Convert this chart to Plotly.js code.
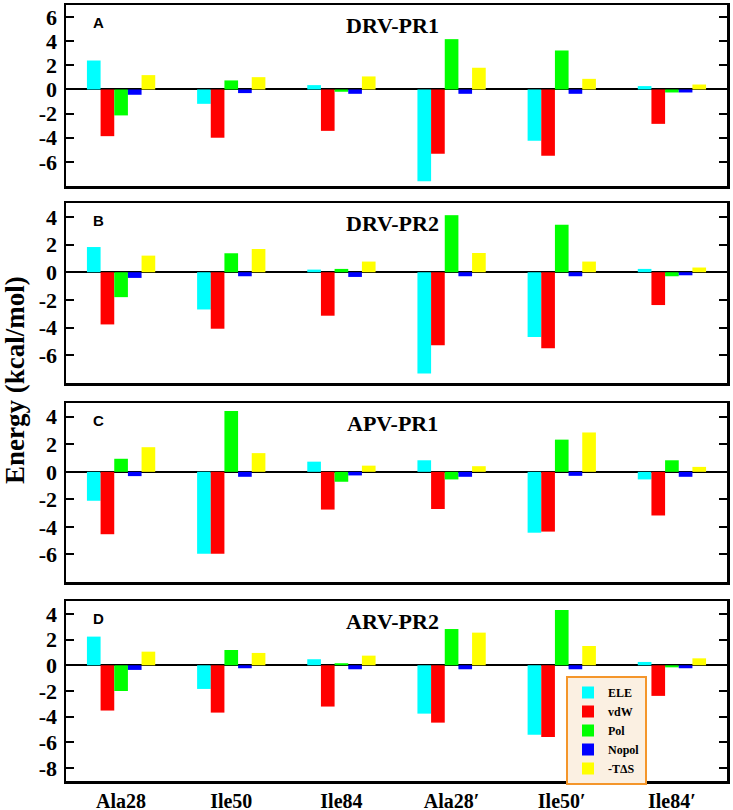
<!DOCTYPE html>
<html>
<head>
<meta charset="utf-8">
<script src="https://cdn.plot.ly/plotly-3.0.1.min.js"></script>
<style>html,body{margin:0;padding:0;background:#fff;}#chart{width:733px;height:810px;}</style>
</head>
<body>
<div id="chart"></div>
<script>
// Categories (residues) and energy components
const categories = ['Ala28', 'Ile50', 'Ile84', 'Ala28\u2032', 'Ile50\u2032', 'Ile84\u2032'];
const seriesNames = ['ELE', 'vdW', 'Pol', 'Nopol', '-T\u0394S'];
const seriesColors = ['#00FFFF', '#FF0000', '#00FF00', '#0000FF', '#FFFF00'];

// Panel A: DRV-PR1
const drvPr1_ELE   = [2.40, -1.19, 0.36, -7.60, -4.25, 0.28];
const drvPr1_vdW   = [-3.87, -4.00, -3.43, -5.33, -5.50, -2.85];
const drvPr1_Pol   = [-2.15, 0.75, -0.19, 4.17, 3.23, -0.25];
const drvPr1_Nopol = [-0.44, -0.30, -0.36, -0.36, -0.36, -0.25];
const drvPr1_TdS   = [1.19, 1.02, 1.08, 1.80, 0.88, 0.41];

// Panel B: DRV-PR2
const drvPr2_ELE   = [1.82, -2.69, 0.19, -7.31, -4.68, 0.24];
const drvPr2_vdW   = [-3.77, -4.08, -3.14, -5.28, -5.49, -2.37];
const drvPr2_Pol   = [-1.80, 1.37, 0.24, 4.12, 3.43, -0.29];
const drvPr2_Nopol = [-0.41, -0.29, -0.34, -0.29, -0.29, -0.22];
const drvPr2_TdS   = [1.20, 1.68, 0.77, 1.39, 0.77, 0.34];

// Panel C: APV-PR1
const apvPr1_ELE   = [-2.10, -5.94, 0.74, 0.84, -4.42, -0.55];
const apvPr1_vdW   = [-4.53, -5.94, -2.74, -2.70, -4.34, -3.17];
const apvPr1_Pol   = [0.95, 4.42, -0.72, -0.55, 2.34, 0.84];
const apvPr1_Nopol = [-0.31, -0.36, -0.26, -0.36, -0.29, -0.36];
const apvPr1_TdS   = [1.79, 1.36, 0.45, 0.41, 2.86, 0.36];

// Panel D: ARV-PR2
const arvPr2_ELE   = [2.23, -1.84, 0.47, -3.76, -5.41, 0.26];
const arvPr2_vdW   = [-3.52, -3.68, -3.21, -4.46, -5.57, -2.38];
const arvPr2_Pol   = [-2.00, 1.19, 0.16, 2.82, 4.30, -0.16];
const arvPr2_Nopol = [-0.36, -0.23, -0.31, -0.31, -0.31, -0.23];
const arvPr2_TdS   = [1.06, 0.96, 0.75, 2.54, 1.50, 0.54];

const panelTitles = ['DRV-PR1', 'DRV-PR2', 'APV-PR1', 'ARV-PR2'];
const panelLetters = ['A', 'B', 'C', 'D'];
const yTickValsA = [-6, -4, -2, 0, 2, 4, 6];
const yTickValsBC = [-6, -4, -2, 0, 2, 4];
const yTickValsD = [-8, -6, -4, -2, 0, 2, 4];

const panels = [
  {series: [drvPr1_ELE, drvPr1_vdW, drvPr1_Pol, drvPr1_Nopol, drvPr1_TdS], range: [-8, 7], ticks: yTickValsA},
  {series: [drvPr2_ELE, drvPr2_vdW, drvPr2_Pol, drvPr2_Nopol, drvPr2_TdS], range: [-8, 5], ticks: yTickValsBC},
  {series: [apvPr1_ELE, apvPr1_vdW, apvPr1_Pol, apvPr1_Nopol, apvPr1_TdS], range: [-8, 5], ticks: yTickValsBC},
  {series: [arvPr2_ELE, arvPr2_vdW, arvPr2_Pol, arvPr2_Nopol, arvPr2_TdS], range: [-9, 5], ticks: yTickValsD}
];

// pixel layout helpers (plot area from y=5 to y=781)
const H = 776, BOTTOM = 781, LEFT = 66, W = 661;
const fy = (py) => (BOTTOM - py) / H;
const fx = (px) => (px - LEFT) / W;
const panelPix = [[5, 186], [203, 383], [403, 582], [601, 781]];

const serif = 'Liberation Serif';
const tickFont = {family: serif, size: 22, color: '#000', weight: 'bold'};

const traces = [];
const layout = {
  width: 733, height: 810,
  margin: {l: LEFT, r: 733 - LEFT - W, t: 5, b: 810 - BOTTOM},
  paper_bgcolor: '#fff', plot_bgcolor: '#fff',
  barmode: 'group', bargap: 0.38, bargroupgap: 0,
  showlegend: true,
  legend: {
    x: fx(566), y: fy(676), xanchor: 'left', yanchor: 'top',
    bgcolor: '#FBF0E2', bordercolor: '#F4962B', borderwidth: 2,
    font: {family: serif, size: 12, color: '#000', weight: 'bold'},
    tracegroupgap: 0
  },
  annotations: [],
  font: {family: serif, color: '#000'}
};

panels.forEach((p, i) => {
  const n = i === 0 ? '' : String(i + 1);
  p.series.forEach((vals, s) => {
    traces.push({
      type: 'bar', x: categories, y: vals, name: seriesNames[s],
      xaxis: 'x' + n, yaxis: 'y' + n,
      marker: {color: seriesColors[s], line: {width: 0}},
      legendgroup: seriesNames[s], showlegend: i === 0,
      hoverinfo: 'skip'
    });
  });
  const [top, bot] = panelPix[i];
  layout['xaxis' + n] = {
    anchor: 'y' + n, domain: [0, 1],
    showline: true, linecolor: '#000', linewidth: 2.5, mirror: true,
    ticks: '', showgrid: false, zeroline: false,
    showticklabels: i === 3, ticklabelstandoff: 0,
    tickfont: {family: serif, size: 20, color: '#000', weight: 'bold'},
    fixedrange: true
  };
  layout['yaxis' + n] = {
    anchor: 'x' + n, domain: [fy(bot), fy(top)],
    tickmode: 'array', range: p.range, tickvals: p.ticks, ticktext: p.ticks.map(String),
    showline: true, linecolor: '#000', linewidth: 2.5, mirror: 'ticks',
    ticks: 'inside', ticklen: 8, tickwidth: 2, tickcolor: '#000',
    showgrid: false, zeroline: true, zerolinecolor: '#000', zerolinewidth: 2,
    tickfont: tickFont,
    ticklabelstandoff: 2,
    fixedrange: true
  };
  layout.annotations.push({
    text: panelTitles[i], xref: 'paper', yref: 'paper',
    x: fx(392.5), y: fy(top + 20), xanchor: 'center', yanchor: 'middle',
    showarrow: false, font: {family: serif, size: 22, color: '#000', weight: 'bold'}
  });
  layout.annotations.push({
    text: panelLetters[i], xref: 'paper', yref: 'paper',
    x: fx(98), y: fy(top + 17), xanchor: 'center', yanchor: 'middle',
    showarrow: false, font: {family: 'Liberation Sans', size: 15, color: '#000', weight: 'bold'}
  });
});

layout.annotations.push({
  text: 'Energy (kcal/mol)', xref: 'paper', yref: 'paper',
  x: fx(15), y: fy(380), xanchor: 'center', yanchor: 'middle', textangle: -90,
  showarrow: false, font: {family: serif, size: 27, color: '#000', weight: 'bold'}
});

Plotly.newPlot('chart', traces, layout, {staticPlot: true, displayModeBar: false});
</script>
</body>
</html>
